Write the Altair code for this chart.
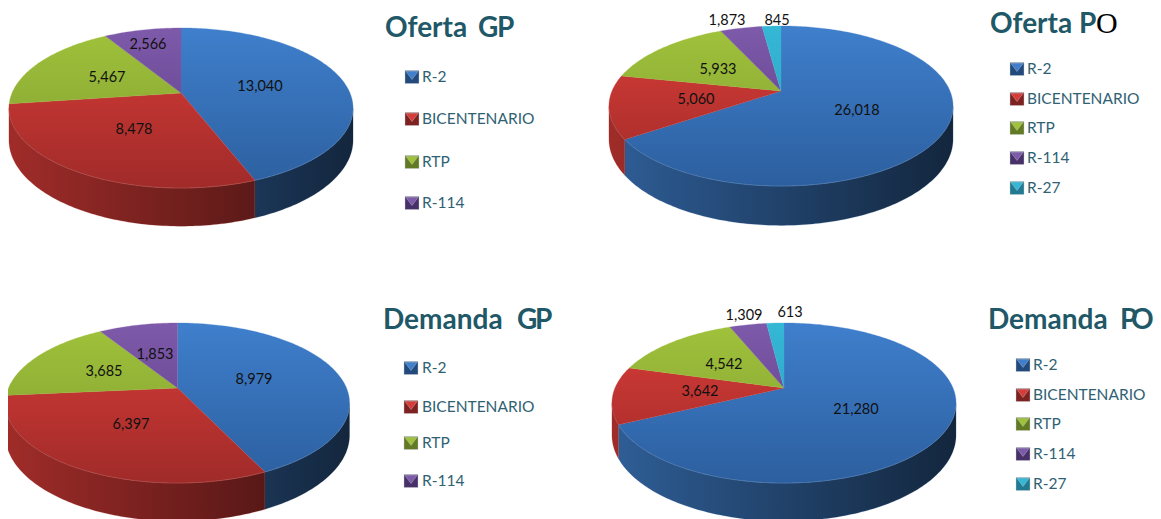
import math
import altair as alt
import pandas as pd

# ---------- values ----------
CATEGORIES = ["R-2", "BICENTENARIO", "RTP", "R-114", "R-27"]
OFERTA_GP = [13040, 8478, 5467, 2566]
OFERTA_PO = [26018, 5060, 5933, 1873, 845]
DEMANDA_GP = [8979, 6397, 3685, 1853]
DEMANDA_PO = [21280, 3642, 4542, 1309, 613]

# ---------- styling ----------
TOP_COL = ["#3f7fcc", "#d83c38", "#a0c23b", "#7e5aaa", "#35b7d6"]
LOW_COL = ["#2c5f9f", "#a02b29", "#7f9c30", "#5c3d86", "#2a9cba"]
TITLE_COL = "#215868"
LEGEND_COL = "#2f6173"
FONT = "Lato"

# ---------- layout (page pixels) ----------
PANELS = [
    dict(values=OFERTA_GP, cx=181, cy=93, depth=31,
         labels=[(260, 87), (134, 130), (107, 78), (148, 45)],
         icon_x=405, text_x=422, legend_y=[77, 119, 162, 203]),
    dict(values=OFERTA_PO, cx=781, cy=91, depth=32,
         labels=[(857, 111), (696, 100), (718, 70), (727, 21), (777, 21)],
         icon_x=1010, text_x=1027, legend_y=[69, 99, 128, 158, 188]),
    dict(values=DEMANDA_GP, cx=177.5, cy=388, depth=31,
         labels=[(254, 380), (131, 425), (104, 372), (155, 355)],
         icon_x=404, text_x=422, legend_y=[368, 407, 443, 481]),
    dict(values=DEMANDA_PO, cx=784, cy=388, depth=31,
         labels=[(856, 410), (700, 392), (724, 365), (744, 316), (790, 313)],
         icon_x=1016, text_x=1033, legend_y=[365, 395, 424, 454, 484]),
]
TITLES = [
    ("Oferta", 385, 37, "bold", TITLE_COL, FONT, 28),
    ("G", 478, 37, "bold", TITLE_COL, FONT, 28),
    ("P", 497, 37, "bold", TITLE_COL, FONT, 28),
    ("Oferta P", 990, 33, "bold", TITLE_COL, FONT, 28),
    ("O", 1096, 33, "normal", "#000000", "Liberation Serif", 30),
    ("Demanda", 383, 329, "bold", TITLE_COL, FONT, 28),
    ("G", 517, 329, "bold", TITLE_COL, FONT, 28),
    ("P", 535, 329, "bold", TITLE_COL, FONT, 28),
    ("Demanda", 988, 329, "bold", TITLE_COL, FONT, 28),
    ("P", 1120, 329, "bold", TITLE_COL, FONT, 28),
    ("O", 1131, 329, "bold", TITLE_COL, FONT, 28),
]
RX, RY, PERSP = 169.0, 77.2, 0.1875
WALL_FROM, WALL_TO = 100.8, 259.2


def rgb(h):
    return [int(h[i:i + 2], 16) for i in (1, 3, 5)]


def to_hex(c):
    return "#%02x%02x%02x" % tuple(max(0, min(255, round(v))) for v in c)


def mix(a, b, t):
    return [x + (y - x) * t for x, y in zip(rgb(a), rgb(b))]


def rim(p, deg, drop=0.0):
    """Perspective rim point of a tilted disc; angle runs clockwise from 12 o'clock."""
    a = math.radians(deg)
    c, s = math.sin(a), math.cos(a)
    w = 1 + PERSP * s
    y = p["cy"] - RY * s / w
    if drop:
        y += drop / w
    return [p["cx"] + RX * c / w, y]


def feature(kind, coords, **props):
    return {"type": "Feature", "properties": props,
            "geometry": {"type": kind, "coordinates": coords}}


def gradient(c0, c1, horizontal=False):
    return alt.Gradient(gradient="linear", x1=0, y1=0,
                        x2=1 if horizontal else 0, y2=0 if horizontal else 1,
                        stops=[alt.GradientStop(color=c0, offset=0),
                               alt.GradientStop(color=c1, offset=1)])


PROJ = dict(type="identity", scale=1, translate=[-8, -8])
rim_features, icon_features = [], []
layers_wall, layers_top = [], []
label_rows, legend_rows = [], []

for p in PANELS:
    total = sum(p["values"])
    start = 0.0
    spans = []
    for i, v in enumerate(p["values"]):
        end = start + 360.0 * v / total
        spans.append((i, start, end))
        start = end
    for i, a0, a1 in spans:
        n = max(2, int((a1 - a0) / 1.0))
        angs = [a0 + (a1 - a0) * k / n for k in range(n + 1)]
        # side wall of the front-facing part, shaded from left to right
        w0, w1 = max(a0, WALL_FROM), min(a1, WALL_TO)
        if w1 > w0:
            m = max(2, int(w1 - w0))
            wa = [w0 + (w1 - w0) * k / m for k in range(m + 1)]
            outline = [rim(p, g) for g in wa] + [rim(p, g, p["depth"]) for g in reversed(wa)]
            xs = [pt[0] for pt in outline]
            def shade(x):
                t = (x - p["cx"] + 172) / 344
                return to_hex([v * (0.74 - 0.44 * t) for v in rgb(TOP_COL[i])])
            cl, cr = shade(min(xs)), shade(max(xs))
            layers_wall.append(
                alt.Chart(alt.Data(values=[feature("Polygon", [outline + [outline[0]]])]))
                .mark_geoshape(stroke=cl, strokeWidth=0.2, fill=gradient(cl, cr, True))
                .project(**PROJ)
            )
        # top face with a vertical gradient shared by the whole disc
        poly = [[p["cx"], p["cy"]]] + [rim(p, g) for g in angs] + [[p["cx"], p["cy"]]]
        ys = [pt[1] for pt in poly]
        top_y, bot_y = p["cy"] - 65, p["cy"] + 95
        c0 = to_hex(mix(TOP_COL[i], LOW_COL[i], (min(ys) - top_y) / (bot_y - top_y)))
        c1 = to_hex(mix(TOP_COL[i], LOW_COL[i], (max(ys) - top_y) / (bot_y - top_y)))
        layers_top.append(
            alt.Chart(alt.Data(values=[feature("Polygon", [poly])]))
            .mark_geoshape(stroke=c0, strokeWidth=0.3, fill=gradient(c0, c1))
            .project(**PROJ)
        )
        # faint highlight on the front rim
        front = [g for g in angs if 105 <= g <= 255]
        if len(front) > 1:
            col = to_hex([min(255, x * 0.8 + 40) for x in rgb(LOW_COL[i])])
            rim_features.append(feature("LineString", [rim(p, g) for g in front], stroke=col))
        # value labels and legend
        lx, ly = p["labels"][i]
        label_rows.append(dict(x=lx, y=ly, text=f"{p['values'][i]:,}"))
        ly2 = p["legend_y"][i]
        x0 = p["icon_x"]
        square = [[x0, ly2 - 6.5], [x0 + 14, ly2 - 6.5], [x0 + 14, ly2 + 6.5], [x0, ly2 + 6.5]]
        icon_features.append(feature("Polygon", [square + [square[0]]],
                                     fill=to_hex([x * 0.78 for x in rgb(LOW_COL[i])])))
        tri = [[x0 + 0.8, ly2 - 5.7], [x0 + 13.2, ly2 - 5.7], [x0 + 7, ly2 + 2.5]]
        icon_features.append(feature("Polygon", [tri + [tri[0]]], fill=TOP_COL[i]))
        legend_rows.append(dict(x=p["text_x"], y=ly2, text=CATEGORIES[i]))

fill_enc = alt.Fill("properties.fill:N", scale=None, legend=None)
rims = (alt.Chart(alt.Data(values=rim_features))
        .mark_geoshape(filled=False, strokeWidth=1, opacity=0.8)
        .encode(stroke=alt.Stroke("properties.stroke:N", scale=None, legend=None))
        .project(**PROJ))
icons = (alt.Chart(alt.Data(values=icon_features))
         .mark_geoshape(strokeWidth=0.4)
         .encode(fill=fill_enc, stroke=alt.value("#c4c9cf"))
         .project(**PROJ))


def text_layer(rows, **style):
    return (alt.Chart(pd.DataFrame(rows))
            .mark_text(**style)
            .encode(longitude="x:Q", latitude="y:Q", text="text:N")
            .project(**PROJ))


labels = text_layer(label_rows, font=FONT, fontSize=14.5, color="#111111",
                    align="center", baseline="middle")
legend = text_layer(legend_rows, font=FONT, fontSize=15.5, color=LEGEND_COL,
                    align="left", baseline="middle")
title_layers = [
    text_layer([dict(x=x, y=y, text=t)], font=f, fontSize=s, fontWeight=w, color=c,
               align="left", baseline="alphabetic")
    for t, x, y, w, c, f, s in TITLES
]

chart = (
    alt.layer(*layers_wall, *layers_top, rims, icons, labels, legend, *title_layers)
    .properties(width=1145, height=511, padding=0,
                autosize=alt.AutoSizeParams(type="none"), background="white")
    .configure_view(stroke=None)
)
chart.save("out.html", embed_options={"renderer": "svg", "actions": False})
